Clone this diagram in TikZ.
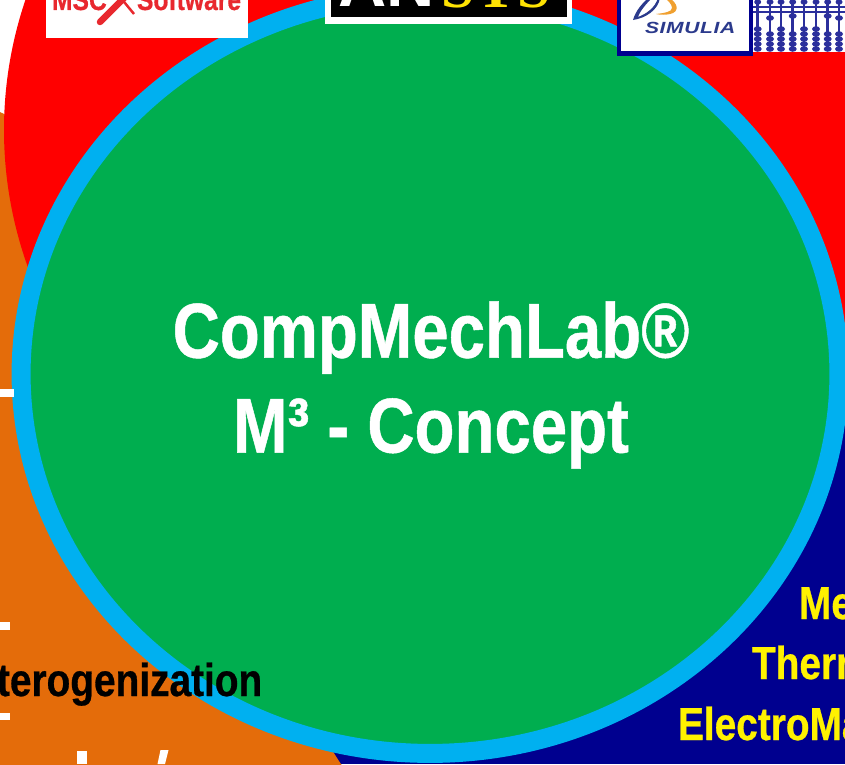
\documentclass[tikz,border=0pt]{standalone}
\usepackage{fontspec}
\setmainfont{Liberation Sans}[FakeStretch=0.84,BoldFeatures={FakeBold=0.6}]
\newfontfamily\logoserif{Liberation Serif}
\newfontfamily\logosans{Liberation Sans}
\newfontfamily\simfont{Liberation Sans}[FakeStretch=1.3,LetterSpace=4]
\usetikzlibrary{shapes.geometric}

\definecolor{coregreen}{HTML}{00AE4F}
\definecolor{ringblue}{HTML}{00B0F0}
\definecolor{darkorange}{HTML}{E46C0A}
\definecolor{navyblue}{HTML}{00008F}
\definecolor{mscred}{HTML}{E8282E}
\definecolor{simblue}{HTML}{2B3A8C}
\definecolor{beadblue}{HTML}{2B2F9C}
\definecolor{dsorange}{HTML}{F0A030}

\begin{document}
\begin{tikzpicture}[x=0.02cm, y=-0.02cm,
    every node/.style={inner sep=0pt, outer sep=0pt},
    corelabel/.style={font=\fontsize{44.3}{54}\selectfont\bfseries, text=white, align=center},
    sidelabel/.style={font=\fontsize{26.3}{30}\selectfont\bfseries, anchor=base west},
    msclabel/.style={font=\fontsize{16.7}{20}\selectfont\bfseries, text=mscred, anchor=base west},
    bead/.style={fill=beadblue}]

    \useasboundingbox (0,0) rectangle (845,764);
    \clip (0,0) rectangle (845,764);

    % Blue sector
    \fill[navyblue] (300,330) rectangle (845,764);

    % Orange sector
    \fill[darkorange] (-5,110) .. controls (150,170) and (240,620) .. (345,770) -- (-5,770) -- cycle;

    % Red sector
    \fill[red] (484,130) ellipse [x radius=480, y radius=439];

    % Central ring
    \node[ellipse, draw=ringblue, fill=coregreen, line width=0.38cm,
          minimum width=16.36cm, minimum height=15.18cm] (core) at (430,374) {};
    \node[corelabel] (title) at (431,385) {CompMechLab®\\M³ - Concept};

    % MSC logo
    \fill[white] (46,-5) rectangle (248,38);
    \node[msclabel] (msc) at (52,10) {MSC};
    \node[msclabel] (software) at (137,10) {Software};
    \draw[mscred, line width=0.13cm, line cap=round] (100,22) -- (125,-3);
    \draw[mscred, line width=0.05cm] (120,-3) -- (134,14);

    % ANSYS logo
    \fill[white] (325,-5) rectangle (572,24);
    \fill[black] (331,-5) rectangle (567,17);
    \node[font=\fontsize{38}{40}\selectfont\logosans\bfseries, text=white, anchor=base west] (an) at (338,7) {AN};
    \node[font=\fontsize{34}{36}\selectfont\logoserif\bfseries, text=yellow!85!orange, anchor=base west] (sys) at (441,7.5) {SYS};

    % SIMULIA logo
    \draw[navyblue, line width=0.09cm, fill=white] (619,-5) rectangle (751,53.5);
    \node[font=\fontsize{9.2}{10}\selectfont\simfont\bfseries\itshape, text=simblue, anchor=base west] (simulia) at (645,33.5) {SIMULIA};
    \fill[simblue] (633,20) .. controls (636,10) and (642,4) .. (648,-2) -- (652,-2)
        .. controls (646,4) and (640,11) .. (638,17) .. controls (646,14) and (655,8) .. (658,-2)
        -- (660,-2) .. controls (658,10) and (646,18) .. (633,20) -- cycle;
    \fill[dsorange] (665,-2) -- (669,-2) .. controls (678,3) and (680,12) .. (670,14)
        .. controls (666,15) and (660,15) .. (656,14) .. controls (664,13) and (672,12) .. (672,8)
        .. controls (672,4) and (668,1) .. (665,-2) -- cycle;

    % Abacus
    \fill[white] (753,-5) rectangle (845,52);
    \draw[beadblue, line width=0.04cm] (753,7) -- (845,7);
    \draw[beadblue, line width=0.04cm] (753,12) -- (845,12);
    \foreach \x/\t in {757.7/29, 770/18, 781/29, 792.7/16, 804/29, 816/29, 827.7/16, 839/18} {
        \draw[beadblue, line width=0.05cm] (\x,-5) -- (\x,51);
        \fill[bead] (\x,2) ellipse [x radius=3.5, y radius=2.8];
        \fill[bead] (\x,\t) ellipse [x radius=4, y radius=2.8];
        \foreach \y in {34,39,44,49}
            \fill[bead] (\x,\y) ellipse [x radius=4, y radius=2.8];
    }

    % Yellow labels
    \node[sidelabel, text=yellow] (mech) at (799,619) {Me};
    \node[sidelabel, text=yellow] (therm) at (752,679) {Therm};
    \node[sidelabel, text=yellow] (electro) at (678,740) {ElectroMa};

    % Black label
    \node[sidelabel, text=black] (hetero) at (-3,696) {terogenization};

    % White fragments on the left
    \fill[white] (0,389) rectangle (13.5,396.5);
    \fill[white] (0,622) rectangle (10,630);
    \fill[white] (0,712.5) rectangle (10,720);
    \fill[white] (77,751) rectangle (87,764);
    \fill[white] (160.5,750) -- (168.5,750) -- (165,764) -- (157.5,764) -- cycle;

\end{tikzpicture}
\end{document}
